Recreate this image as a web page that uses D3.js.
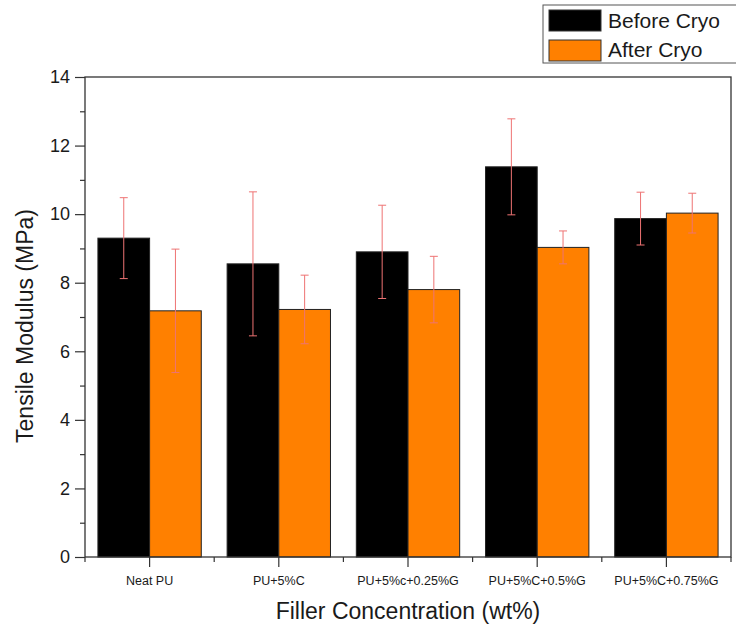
<!DOCTYPE html>
<html>
<head>
<meta charset="utf-8">
<script src="https://cdn.jsdelivr.net/npm/d3@7"></script>
<style>
  body { margin: 0; background: #fff; }
  text { font-family: "Liberation Sans", Arial, sans-serif; fill: #1a1a1a; }
</style>
</head>
<body>
<svg id="chart" width="736" height="625"></svg>
<script>
// data
const categories = ["Neat PU", "PU+5%C", "PU+5%c+0.25%G", "PU+5%C+0.5%G", "PU+5%C+0.75%G"];
const seriesNames = ["Before Cryo", "After Cryo"];
const seriesColors = ["#000000", "#ff8000"];
const beforeValues = [9.3, 8.55, 8.9, 11.38, 9.87];
const beforeErrors = [1.18, 2.1, 1.36, 1.4, 0.77];
const afterValues = [7.18, 7.22, 7.8, 9.03, 10.03];
const afterErrors = [1.8, 1.0, 0.97, 0.48, 0.58];
const yMajorTicks = [0, 2, 4, 6, 8, 10, 12, 14];
const yMinorTicks = [1, 3, 5, 7, 9, 11, 13];

const svg = d3.select("#chart");
const plot = { left: 85, right: 731, top: 77, bottom: 557 };

const y = d3.scaleLinear().domain([0, 14]).range([plot.bottom, plot.top]);
// one band per category (ticks sit at band centres / edges)
const xCat = d3.scaleBand().domain(categories).range([plot.left, plot.right]).padding(0);
const groupW = xCat.bandwidth() * 0.8;
const xSub = d3.scaleBand().domain(seriesNames).range([0, groupW]).padding(0);

const rows = categories.map((c, i) => ({
  cat: c,
  bars: [
    { s: seriesNames[0], v: beforeValues[i], e: beforeErrors[i], color: seriesColors[0] },
    { s: seriesNames[1], v: afterValues[i], e: afterErrors[i], color: seriesColors[1] }
  ]
}));

const groups = svg.append("g").selectAll("g.group")
  .data(rows)
  .enter()
  .append("g")
  .attr("class", "group")
  .attr("transform", d => "translate(" + (xCat(d.cat) + (xCat.bandwidth() - groupW) / 2) + ",0)");

groups.selectAll("rect")
  .data(d => d.bars)
  .enter()
  .append("rect")
  .attr("x", d => xSub(d.s))
  .attr("y", d => y(d.v))
  .attr("width", xSub.bandwidth())
  .attr("height", d => y(0) - y(d.v))
  .attr("fill", d => d.color)
  .attr("stroke", "#222")
  .attr("stroke-width", 1);

// error bars
const capW = 8;
const err = groups.selectAll("g.err")
  .data(d => d.bars)
  .enter()
  .append("g")
  .attr("class", "err")
  .attr("stroke", "#ee7373")
  .attr("stroke-width", 1);
err.append("line")
  .attr("x1", d => xSub(d.s) + xSub.bandwidth() / 2)
  .attr("x2", d => xSub(d.s) + xSub.bandwidth() / 2)
  .attr("y1", d => y(d.v + d.e))
  .attr("y2", d => y(d.v - d.e));
[1, -1].forEach(sign => {
  err.append("line")
    .attr("x1", d => xSub(d.s) + xSub.bandwidth() / 2 - capW / 2)
    .attr("x2", d => xSub(d.s) + xSub.bandwidth() / 2 + capW / 2)
    .attr("y1", d => y(d.v + sign * d.e))
    .attr("y2", d => y(d.v + sign * d.e));
});

// frame
svg.append("rect")
  .attr("x", plot.left)
  .attr("y", plot.top)
  .attr("width", plot.right - plot.left)
  .attr("height", plot.bottom - plot.top)
  .attr("fill", "none")
  .attr("stroke", "#333")
  .attr("stroke-width", 1.3);

// y axis
const yAxis = svg.append("g")
  .attr("transform", "translate(" + plot.left + ",0)")
  .call(d3.axisLeft(y).tickValues(yMajorTicks).tickSize(10).tickSizeOuter(0).tickPadding(5).tickFormat(d3.format("d")));
yAxis.select(".domain").remove();
yAxis.selectAll("line").attr("stroke", "#333").attr("stroke-width", 1.2);
yAxis.selectAll("text").attr("font-size", 18).attr("font-family", "Liberation Sans, Arial, sans-serif").attr("fill", "#1a1a1a");

const yMinor = svg.append("g")
  .attr("transform", "translate(" + plot.left + ",0)")
  .call(d3.axisLeft(y).tickValues(yMinorTicks).tickSize(5).tickSizeOuter(0).tickFormat(""));
yMinor.select(".domain").remove();
yMinor.selectAll("line").attr("stroke", "#333").attr("stroke-width", 1.2);

// x axis: major ticks at category centres, minor at band edges
const xAxis = svg.append("g")
  .attr("transform", "translate(0," + plot.bottom + ")")
  .call(d3.axisBottom(xCat).tickSize(10).tickSizeOuter(0).tickPadding(9));
xAxis.select(".domain").remove();
xAxis.selectAll("line").attr("stroke", "#333").attr("stroke-width", 1.2);
xAxis.selectAll("text").attr("font-size", 12.5).attr("font-family", "Liberation Sans, Arial, sans-serif").attr("fill", "#333");

const edges = categories.map(c => xCat(c)).concat([plot.right]);
svg.append("g").selectAll("line")
  .data(edges)
  .enter()
  .append("line")
  .attr("x1", d => d)
  .attr("x2", d => d)
  .attr("y1", plot.bottom)
  .attr("y2", plot.bottom + 5)
  .attr("stroke", "#333")
  .attr("stroke-width", 1.2);

// axis titles
svg.append("text")
  .attr("x", (plot.left + plot.right) / 2)
  .attr("y", 619)
  .attr("text-anchor", "middle")
  .attr("font-size", 23)
  .text("Filler Concentration (wt%)");

svg.append("text")
  .attr("transform", "translate(33," + 326 + ") rotate(-90)")
  .attr("text-anchor", "middle")
  .attr("font-size", 23)
  .text("Tensile Modulus (MPa)");

// legend
const legend = svg.append("g");
legend.append("rect")
  .attr("x", 543).attr("y", 5)
  .attr("width", 200).attr("height", 58)
  .attr("fill", "#fff")
  .attr("stroke", "#555")
  .attr("stroke-width", 1);
seriesNames.forEach((name, i) => {
  legend.append("rect")
    .attr("x", 549).attr("y", 10 + i * 30)
    .attr("width", 52).attr("height", 21)
    .attr("fill", seriesColors[i])
    .attr("stroke", "#333");
  legend.append("text")
    .attr("x", 608).attr("y", 28 + i * 29)
    .attr("font-size", 21)
    .text(name);
});
</script>
</body>
</html>
